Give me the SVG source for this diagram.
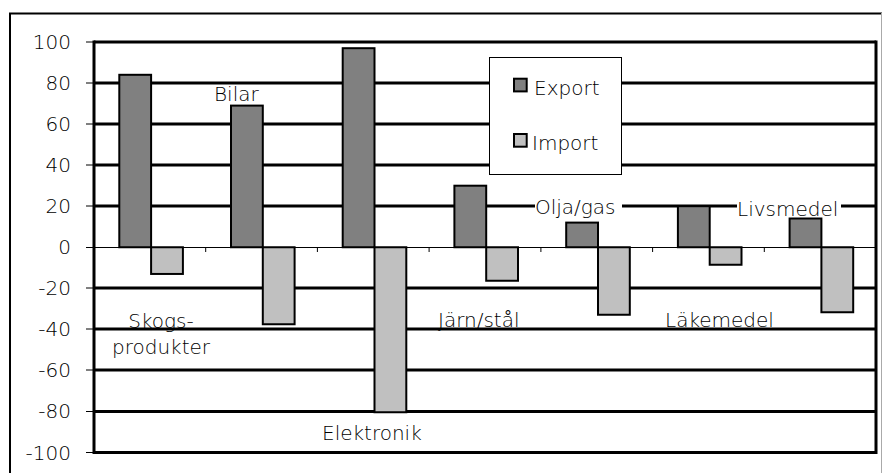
<svg xmlns="http://www.w3.org/2000/svg" width="883" height="473" viewBox="0 0 883 473">
<style>
text{font-family:"DejaVu Sans","Liberation Sans",sans-serif;font-size:20px;font-weight:200;fill:#000}
.yl{text-anchor:end}
.grid{stroke:#000;stroke-width:3;fill:none}
.thin{stroke:#000;stroke-width:1;fill:none}
.exp{fill:#808080;stroke:#000;stroke-width:2}
.imp{fill:#c0c0c0;stroke:#000;stroke-width:2}
</style>
<rect width="883" height="473" fill="#fff"/>
<!-- outer frame -->
<g id="frame">
<path d="M10,480 V13.5 H882" fill="none" stroke="#000" stroke-width="2"/>
<line x1="881.5" y1="13" x2="881.5" y2="480" stroke="#aaa" stroke-width="1"/>
</g>
<!-- category labels drawn under the gridlines -->
<g id="labels-under">
<text x="161" y="328" text-anchor="middle">Skogs-</text>
<text x="161" y="354" text-anchor="middle">produkter</text>
<text x="214" y="101">Bilar</text>
<text x="322" y="440">Elektronik</text>
<text x="438" y="327">Järn/stål</text>
<text x="665" y="326.5">Läkemedel</text>
</g>
<!-- y axis labels -->
<g id="y-axis-labels">
<text class="yl" x="71" y="49">100</text>
<text class="yl" x="71" y="90">80</text>
<text class="yl" x="71" y="131">60</text>
<text class="yl" x="71" y="172">40</text>
<text class="yl" x="71" y="213">20</text>
<text class="yl" x="71" y="254">0</text>
<text class="yl" x="71" y="295">-20</text>
<text class="yl" x="71" y="336">-40</text>
<text class="yl" x="71" y="377">-60</text>
<text class="yl" x="71" y="418">-80</text>
<text class="yl" x="71" y="459.5">-100</text>
</g>
<!-- gridlines and axes -->
<g id="grid">
<path class="grid" d="M94,42 H876 M94,83 H876 M94,124 H876 M94,165 H876 M94,206 H876 M94,288 H876 M94,329 H876 M94,370 H876 M94,411.5 H876 M94,452.5 H876"/>
<path class="grid" d="M94,40.5 V454 M876,40.5 V454"/>
<path class="thin" d="M94,247.5 H876"/>
<path class="thin" d="M86,42 H94 M86,83 H94 M86,124 H94 M86,165 H94 M86,206 H94 M86,247.5 H94 M86,288 H94 M86,329 H94 M86,370 H94 M86,411.5 H94 M86,452.5 H94"/>
<path class="thin" d="M205.7,247 V252 M317.4,247 V252 M429.1,247 V252 M540.9,247 V252 M652.6,247 V252 M764.3,247 V252 M875.5,247 V252"/>
</g>
<!-- bars -->
<g id="bars">
<rect class="exp" x="119.3" y="74.8" width="31.8" height="172.45"/>
<rect class="imp" x="151.1" y="247.25" width="31.8" height="26.7"/>
<rect class="exp" x="231" y="105.6" width="31.8" height="141.65"/>
<rect class="imp" x="262.8" y="247.25" width="31.8" height="77"/>
<rect class="exp" x="342.7" y="48.2" width="31.8" height="199.05"/>
<rect class="imp" x="374.5" y="247.25" width="31.8" height="165"/>
<rect class="exp" x="454.4" y="185.7" width="31.8" height="61.55"/>
<rect class="imp" x="486.2" y="247.25" width="31.8" height="33.5"/>
<rect class="exp" x="566.2" y="222.6" width="31.8" height="24.65"/>
<rect class="imp" x="598" y="247.25" width="31.8" height="67.5"/>
<rect class="exp" x="677.9" y="206.2" width="31.8" height="41.05"/>
<rect class="imp" x="709.7" y="247.25" width="31.8" height="17.5"/>
<rect class="exp" x="789.6" y="218.5" width="31.8" height="28.75"/>
<rect class="imp" x="821.4" y="247.25" width="31.8" height="65"/>
</g>
<!-- labels with white background -->
<g id="labels-over">
<rect x="535" y="199" width="87" height="15" fill="#fff"/>
<text x="535" y="214">Olja/gas</text>
<rect x="737" y="202" width="104" height="12" fill="#fff"/>
<text x="737" y="216">Livsmedel</text>
</g>
<!-- legend -->
<g id="legend">
<rect x="489.5" y="57.5" width="132" height="117" fill="#fff" stroke="#000" stroke-width="1"/>
<rect class="exp" x="514" y="78.7" width="12.7" height="12.7"/>
<text x="534" y="95">Export</text>
<rect class="imp" x="514" y="134" width="12.7" height="12.7"/>
<text x="532" y="149.5">Import</text>
</g>
</svg>
